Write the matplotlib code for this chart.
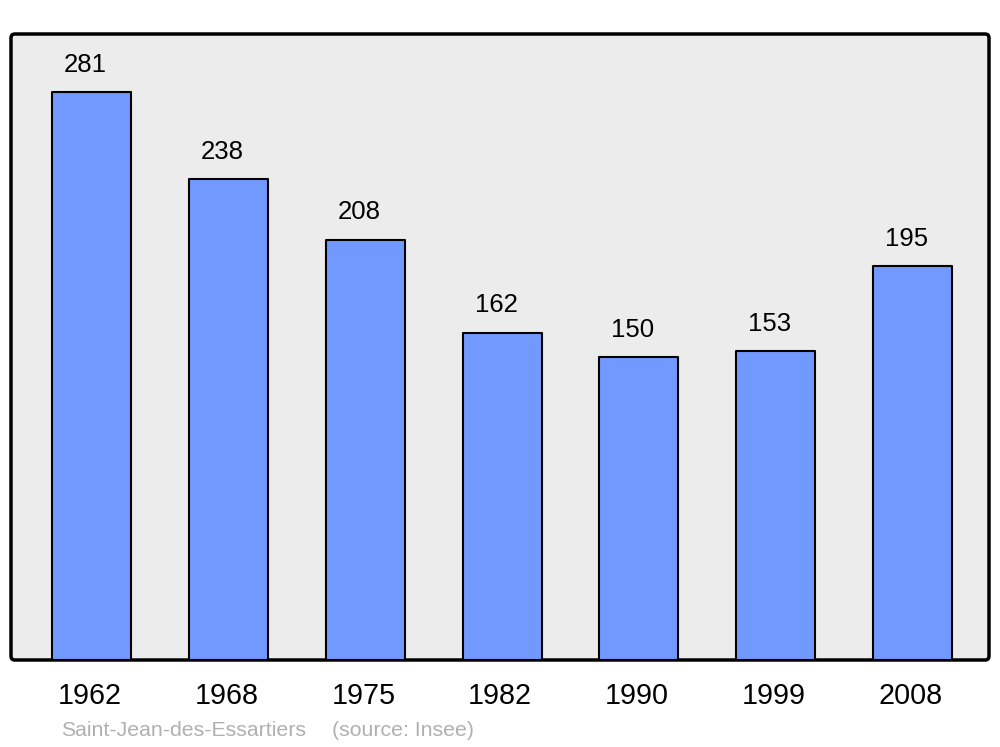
import numpy as np
import matplotlib
matplotlib.use('Agg')
from matplotlib import pyplot as plt
from matplotlib.patches import FancyBboxPatch

years = ['1962', '1968', '1975', '1982', '1990', '1999', '2008']
population = [281, 238, 208, 162, 150, 153, 195]
town = 'Saint-Jean-des-Essartiers'
source = '(source: Insee)'

plt.rcParams['font.family'] = ['Liberation Sans', 'DejaVu Sans']

fig = plt.figure(figsize=(10, 7.47), dpi=100)
ax = fig.add_axes([0.011, 1 - 660/747, 0.978, (660 - 34)/747])
ax.patch.set_visible(False)
ax.axis('off')

# rounded frame with grey background
frame = FancyBboxPatch((0, 0), 1, 1, boxstyle='round,pad=0,rounding_size=0.004',
                       mutation_aspect=978/626, transform=ax.transAxes,
                       facecolor='#ececec', edgecolor='black', lw=2.5,
                       zorder=0, clip_on=False)
ax.add_patch(frame)

x = np.arange(len(years))
bars = ax.bar(x, population, width=0.578, color='#7299ff', edgecolor='black',
              linewidth=1.5, zorder=2)
for b in bars:
    b.set_joinstyle('round')

ax.set_xlim(-0.592, 6.56)
ax.set_ylim(0, 309.7)

for xi, v in zip(x, population):
    ax.annotate(str(v), (xi, v), xytext=(-4.5, 19.5), textcoords='offset points',
                ha='center', va='center', fontsize=18.5, color='black')

for xi, yr in zip(x, years):
    ax.annotate(yr, (xi, 0), xytext=(-1.5, -26), textcoords='offset points',
                ha='center', va='center', fontsize=20.7, color='black',
                annotation_clip=False)

fig.text(0.061, 1 - 730/747, town, fontsize=15.3, color='#b0b0b0', va='center')
fig.text(0.332, 1 - 730/747, source, fontsize=15.3, color='#b0b0b0', va='center')

fig.savefig('out.png', dpi=100)
